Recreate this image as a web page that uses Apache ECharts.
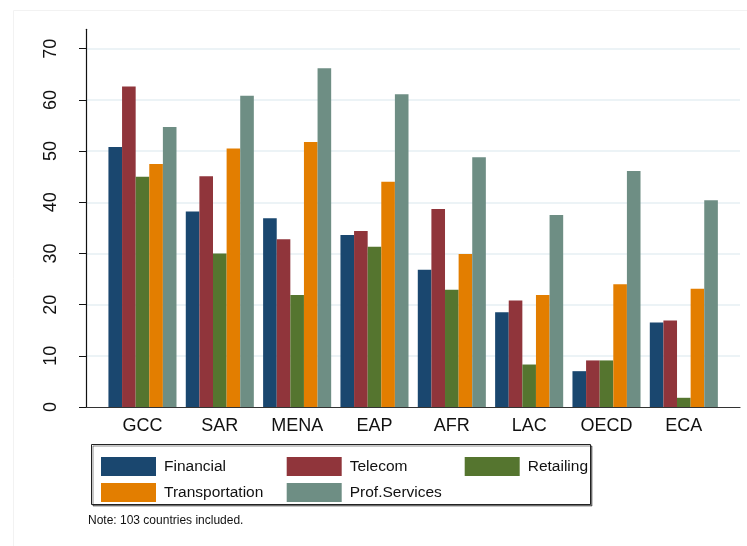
<!DOCTYPE html>
<html>
<head>
<meta charset="utf-8">
<script src="https://cdn.jsdelivr.net/npm/echarts@6/dist/echarts.min.js"></script>
<style>html,body{margin:0;padding:0;background:#fff}#c{width:747px;height:546px}</style>
</head>
<body>
<div id="c"></div>
<script>
const categories = ['GCC','SAR','MENA','EAP','AFR','LAC','OECD','ECA'];
const financial = [50.8, 38.2, 36.9, 33.6, 26.8, 18.5, 7.0, 16.5];
const telecom = [62.6, 45.1, 32.8, 34.4, 38.7, 20.8, 9.1, 16.9];
const retailing = [45.0, 30.0, 21.9, 31.3, 22.9, 8.3, 9.1, 1.8];
const transportation = [47.5, 50.5, 51.8, 44.0, 29.9, 21.9, 24.0, 23.1];
const profServices = [54.7, 60.8, 66.2, 61.1, 48.8, 37.5, 46.1, 40.4];
const yTicks = [0,10,20,30,40,50,60,70];
const note = 'Note: 103 countries included.';

const colors = ['#1a476f','#90353b','#55752f','#e37e00','#6e8e84'];
const FONT = 'Liberation Sans, Arial, sans-serif';
const YMAX = 73.8;
const gTop = 29.3, gBottom = 139;

const chart = echarts.init(document.getElementById('c'), null, {renderer:'canvas'});
function ser(name, data, i){
  return {name, type:'bar', data, xAxisIndex:1, yAxisIndex:1, barGap:'0%', barCategoryGap:'12%',
    itemStyle:{color:colors[i]}, emphasis:{disabled:true}, animation:false};
}
const legendText = {fontFamily:FONT, fontSize:15.5, color:'#111', padding:[0,0,0,3]};
const legendCommon = {orient:'vertical', itemWidth:55, itemHeight:19, itemGap:7, top:452,
  icon:'rect', textStyle:legendText, selectedMode:false};
chart.setOption({
  animation:false,
  color: colors,
  grid:[
    {left:86, right:7, top:gTop, bottom:gBottom},
    {left:103.8, width:618.7, top:gTop, bottom:gBottom}
  ],
  xAxis:[
    {gridIndex:0, type:'value', min:0, max:1, axisLabel:{show:false}, axisTick:{show:false}, splitLine:{show:false},
      axisLine:{show:true, onZero:false, lineStyle:{color:'#333', width:1.2}}},
    {gridIndex:1, type:'category', data:categories, axisLine:{show:false}, axisTick:{show:false},
      axisLabel:{fontFamily:FONT, fontSize:18, color:'#111', margin:10}}
  ],
  yAxis:[
    {gridIndex:0, type:'value', min:0, max:YMAX, interval:10,
      axisLine:{show:true, lineStyle:{color:'#111', width:1.2}},
      axisTick:{show:true, length:7, lineStyle:{color:'#111'}, customValues:yTicks},
      axisLabel:{rotate:90, fontFamily:FONT, fontSize:18, color:'#111', margin:26, customValues:yTicks},
      splitLine:{show:true, showMinLine:false, lineStyle:{color:'#e6eff3', width:1.5}}},
    {gridIndex:1, type:'value', min:0, max:YMAX, interval:10, show:false, splitLine:{show:false}}
  ],
  legend:[
    Object.assign({left:96, data:['Financial','Transportation']}, legendCommon),
    Object.assign({left:281.7, data:['Telecom','Prof.Services']}, legendCommon),
    Object.assign({left:459.7, data:['Retailing']}, legendCommon)
  ],
  graphic:[
    {type:'rect', shape:{x:13.5, y:10.5, width:760, height:560}, style:{fill:null, stroke:'#f2f2f2', lineWidth:1}, silent:true, z:-10},
    {type:'rect', shape:{x:91.5, y:444.5, width:499, height:60}, style:{fill:'#fff', stroke:'#222', lineWidth:1,
      shadowColor:'rgba(0,0,0,0.45)', shadowOffsetX:1.5, shadowOffsetY:1.5, shadowBlur:0}, silent:true, z:-5},
    {type:'text', left:88, top:515, style:{text:note, font:'12px ' + FONT, fill:'#111'}, silent:true}
  ],
  series:[
    ser('Financial', financial, 0),
    ser('Telecom', telecom, 1),
    ser('Retailing', retailing, 2),
    ser('Transportation', transportation, 3),
    ser('Prof.Services', profServices, 4)
  ]
});
</script>
</body>
</html>
